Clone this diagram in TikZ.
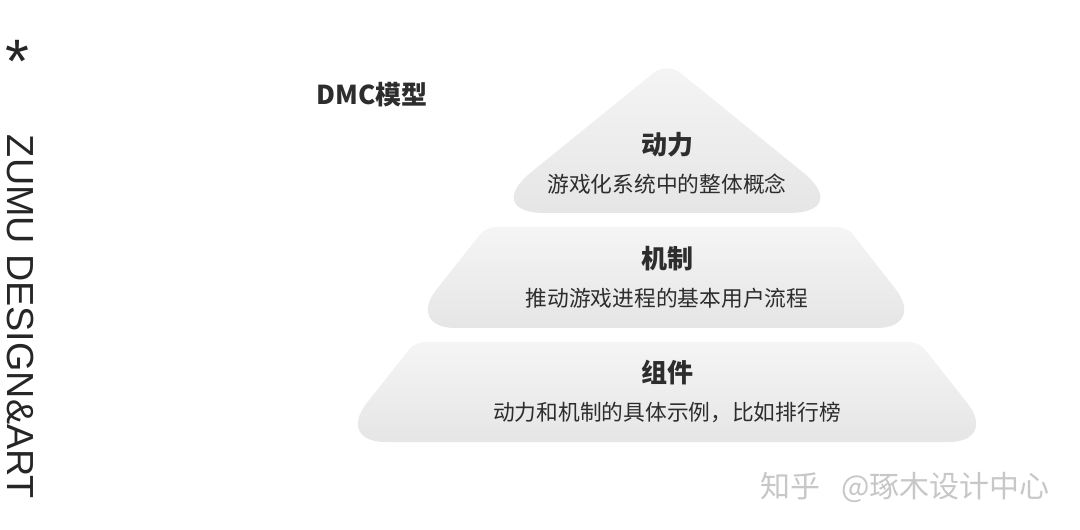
\documentclass[tikz,border=0pt]{standalone}
\usepackage{fontspec}
\setmainfont{Noto Sans CJK SC}
\newfontfamily\zumufont{Liberation Sans}
\definecolor{inkgray}{RGB}{45, 45, 45}
\usetikzlibrary{positioning}

\begin{document}
\begin{tikzpicture}[x=0.75pt, y=-0.75pt,
  layer/.style={top color=black!4, bottom color=black!10, draw=none},
  ttl/.style={font=\fontsize{19.5}{22}\selectfont\bfseries, text=inkgray, inner sep=0pt},
  sub/.style={font=\fontsize{16.3}{19}\selectfont, text=inkgray, inner sep=0pt},
  side/.style={rotate=-90, text=black!85, inner sep=0pt}
]
  \useasboundingbox[fill=white] (0,0) rectangle (1080,530);

  \path[layer] (667,213) [rounded corners=48pt] -- (481,213) [rounded corners=13pt] -- (667,62) [rounded corners=48pt] -- (853,213) -- cycle;
  \path[layer] (666,328) [rounded corners=37pt] -- (406,328) [rounded corners=7pt] -- (486,227) -- (847,227) [rounded corners=37pt] -- (926,328) -- cycle;
  \path[layer] (667,442) [rounded corners=37pt] -- (336,442) [rounded corners=7pt] -- (415,342) -- (919,342) [rounded corners=37pt] -- (998,442) -- cycle;

  \node[ttl] (dongli) at (667,145) {动力};
  \node[sub] (dongli-sub) at (667,184) {游戏化系统中的整体概念};
  \node[ttl] (jizhi) at (667,259) {机制};
  \node[sub] (jizhi-sub) at (667,298) {推动游戏进程的基本用户流程};
  \node[ttl] (zujian) at (667,373) {组件};
  \node[sub] (zujian-sub) at (667,412) {动力和机制的具体示例，比如排行榜};

  \node[anchor=west, font=\fontsize{19.5}{22}\selectfont\bfseries, text=inkgray, inner sep=0pt] (dmc) at (316,95) {DMC模型};

  \node[anchor=base, text=black!85, inner sep=0pt, font=\zumufont\fontsize{46}{46}\selectfont] (star) at (17,83) {*};
  \node[side, font=\zumufont\fontsize{28.3}{30}\selectfont] (zumu) at (20,317) {ZUMU DESIGN\&ART};

  \node[anchor=west, font=\fontsize{22.5}{25}\selectfont, text=black!22, inner sep=0pt] (zhihu) at (760,487) {知乎\hspace{0.7em}@琢木设计中心};
\end{tikzpicture}
\end{document}
